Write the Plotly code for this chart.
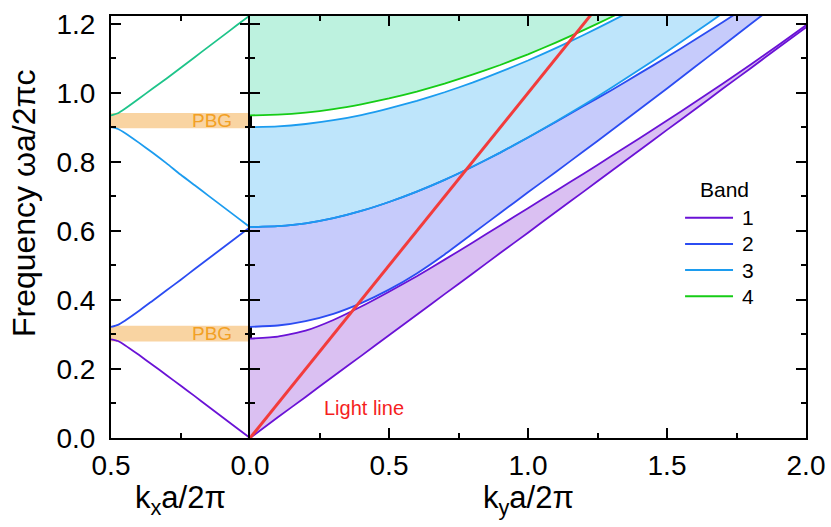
import plotly.graph_objects as go

# ---------------- data ----------------
# left panel: dispersion along kx (ky = 0)
KX = [0.0, 0.05, 0.1, 0.15, 0.2, 0.25, 0.3, 0.35, 0.4, 0.45, 0.475, 0.5]
left_b1 = [0.0, 0.0305, 0.061, 0.0915, 0.122, 0.152, 0.182, 0.2116, 0.241, 0.269, 0.281, 0.286]
left_b2 = [0.611, 0.5805, 0.550, 0.5195, 0.489, 0.458, 0.428, 0.398, 0.368, 0.340, 0.328, 0.322]
left_b3 = [0.611, 0.6415, 0.672, 0.7025, 0.733, 0.7635, 0.796, 0.8266, 0.856, 0.884, 0.8956, 0.901]
left_b4 = [1.225, 1.1945, 1.164, 1.1335, 1.103, 1.0725, 1.042, 1.013, 0.983, 0.954, 0.941, 0.935]

# photonic band gaps (lower, upper)
pbg_low = [0.280, 0.898]
pbg_high = [0.325, 0.942]
pbg_label = ["PBG", "PBG"]

# right panel: projected bands vs ky
KY = [0.0, 0.1, 0.2, 0.3, 0.4, 0.5, 0.6, 0.7, 0.8, 0.9, 1.0,
      1.1, 1.2, 1.3, 1.4, 1.5, 1.6, 1.7, 1.8, 1.9, 2.0]
b1_lo = [0.0, 0.060, 0.119, 0.179, 0.238, 0.298, 0.357, 0.417, 0.476, 0.536, 0.595,
         0.655, 0.714, 0.774, 0.833, 0.893, 0.952, 1.012, 1.071, 1.131, 1.190]
b1_hi = [0.288, 0.294, 0.311, 0.342, 0.381, 0.424, 0.469, 0.517, 0.566, 0.616, 0.666,
         0.716, 0.766, 0.817, 0.868, 0.920, 0.973, 1.027, 1.082, 1.138, 1.196]
b2_lo = [0.322, 0.326, 0.339, 0.360, 0.391, 0.430, 0.477, 0.532, 0.592, 0.652, 0.712,
         0.771, 0.831, 0.891, 0.952, 1.013, 1.075, 1.137, 1.199, 1.261, 1.323]
b2_hi = [0.611, 0.614, 0.622, 0.637, 0.658, 0.684, 0.714, 0.748, 0.786, 0.827, 0.871,
         0.916, 0.962, 1.008, 1.056, 1.104, 1.154, 1.205, 1.257, 1.310, 1.364]
b3_lo = [0.611, 0.614, 0.622, 0.637, 0.658, 0.684, 0.714, 0.748, 0.786, 0.827, 0.871,
         0.917, 0.965, 1.015, 1.067, 1.120, 1.175, 1.231, 1.288, 1.346, 1.405]
b3_hi = [0.901, 0.903, 0.910, 0.921, 0.936, 0.955, 0.977, 1.002, 1.030, 1.061, 1.094,
         1.130, 1.168, 1.208, 1.250, 1.294, 1.340, 1.388, 1.438, 1.490, 1.544]
b4_lo = [0.935, 0.937, 0.943, 0.953, 0.967, 0.984, 1.004, 1.027, 1.053, 1.081, 1.112,
         1.146, 1.182, 1.220, 1.260, 1.302, 1.345, 1.389, 1.434, 1.480, 1.527]

light_k = [0.0, 1.3]
light_w = [0.0, 1.3]

band_names = ["1", "2", "3", "4"]
band_colors = ["#6a12d6", "#2b4cf2", "#1c9cef", "#16cc16"]
fill_colors = ["#dac0f2", "#c6cbfb", "#bee5fb", "#bdf2df"]
left_b4_color = "#1ec48a"

x_titles = ["k<sub>x</sub>a/2π", "k<sub>y</sub>a/2π"]
y_title = "Frequency ωa/2πc"

Y_MAX = 1.223
FONT = "Liberation Sans, Arial, sans-serif"

fig = go.Figure()

spl = dict(shape="spline", smoothing=0.5)

# ---------- left panel lines ----------
for ys, col in zip([left_b1, left_b2, left_b3, left_b4],
                   band_colors[:3] + [left_b4_color]):
    fig.add_trace(go.Scatter(x=KX, y=ys, mode="lines", xaxis="x", yaxis="y",
                             line=dict(color=col, width=1.8, **spl),
                             showlegend=False, hoverinfo="skip"))

# ---------- right panel fills ----------
ceiling = [Y_MAX + 0.1] * len(KY)
pairs = [(b1_lo, b1_hi), (b2_lo, b2_hi), (b3_lo, b3_hi), (b4_lo, ceiling)]
for (lo, hi), fc in zip(pairs, fill_colors):
    fig.add_trace(go.Scatter(x=KY, y=lo, mode="lines", xaxis="x2", yaxis="y2",
                             line=dict(width=0, color="rgba(0,0,0,0)", **spl),
                             showlegend=False, hoverinfo="skip"))
    fig.add_trace(go.Scatter(x=KY, y=hi, mode="lines", xaxis="x2", yaxis="y2",
                             fill="tonexty", fillcolor=fc,
                             line=dict(width=0, color="rgba(0,0,0,0)", **spl),
                             showlegend=False, hoverinfo="skip"))

# ---------- right panel lines ----------
line_sets = [(b1_lo, 0), (b1_hi, 0), (b2_lo, 1), (b2_hi, 1),
             (b3_lo, 2), (b3_hi, 2), (b4_lo, 3)]
for ys, ci in line_sets:
    fig.add_trace(go.Scatter(x=KY, y=ys, mode="lines", xaxis="x2", yaxis="y2",
                             line=dict(color=band_colors[ci], width=1.8, **spl),
                             showlegend=False, hoverinfo="skip"))

# light line
fig.add_trace(go.Scatter(x=light_k, y=light_w, mode="lines", xaxis="x2", yaxis="y2",
                         line=dict(color="#f23c3c", width=3), showlegend=False, hoverinfo="skip"))

# ---------- PBG boxes ----------
shapes = []
annotations = []
for lo, hi, lab in zip(pbg_low, pbg_high, pbg_label):
    shapes.append(dict(type="rect", xref="x domain", yref="y", x0=0, x1=1, y0=lo, y1=hi,
                       fillcolor="#f9d4a2", line=dict(width=0), layer="below"))
    annotations.append(dict(x=0.137, y=(lo + hi) / 2, xref="x", yref="y", text=lab,
                            xanchor="center", showarrow=False,
                            font=dict(family=FONT, size=19, color="#f2a024")))

annotations.append(dict(x=0.41, y=0.086, xref="x2", yref="y2", text="Light line",
                        xanchor="center", showarrow=False,
                        font=dict(family=FONT, size=20, color="#f51f1f")))

# ---------- custom legend ----------
leg_x0, leg_x1 = 0.826, 0.895
leg_y = [0.522, 0.460, 0.398, 0.336]
annotations.append(dict(x=0.883, y=0.59, xref="paper", yref="paper", text="Band",
                        xanchor="center", yanchor="middle", showarrow=False,
                        font=dict(family=FONT, size=21, color="black")))
for name, col, yy in zip(band_names, band_colors, leg_y):
    shapes.append(dict(type="line", xref="paper", yref="paper", x0=leg_x0, x1=leg_x1,
                       y0=yy, y1=yy, line=dict(color=col, width=2)))
    annotations.append(dict(x=0.905, y=yy, xref="paper", yref="paper", text=name,
                            xanchor="left", yanchor="middle", showarrow=False,
                            font=dict(family=FONT, size=21, color="black")))

# axis titles
annotations.append(dict(x=-0.125, y=0.557, xref="paper", yref="paper",
                        text=y_title, textangle=-90, showarrow=False,
                        xanchor="center", yanchor="middle",
                        font=dict(family=FONT, size=32, color="black")))
for ax, txt in zip(["x domain", "x2 domain"], x_titles):
    annotations.append(dict(x=0.5, y=-0.147, xref=ax, yref="paper", text=txt,
                            xanchor="center", yanchor="middle", showarrow=False,
                            font=dict(family=FONT, size=31, color="black")))

axis_common = dict(showline=True, linecolor="black", linewidth=2, ticks="inside",
                   ticklen=10, tickwidth=2, tickcolor="black", mirror="ticks",
                   showgrid=False, zeroline=False, automargin=False,
                   tickfont=dict(family=FONT, size=28, color="black"))

fig.update_layout(
    width=831, height=527,
    margin=dict(l=111, r=25, t=16, b=89),
    paper_bgcolor="white", plot_bgcolor="white",
    showlegend=False,
    xaxis=dict(domain=[0, 0.2], range=[0.5, 0], anchor="y",
               tickvals=[0.5], ticktext=["0.5"], ticklabelstandoff=1,
               minor=dict(tickvals=[0.25], ticks="inside", ticklen=5, tickwidth=2, tickcolor="black"),
               **axis_common),
    xaxis2=dict(domain=[0.2, 1], range=[0, 2], anchor="y2", dtick=0.5, tick0=0,
                tickformat=".1f", ticklabelstandoff=1,
                minor=dict(dtick=0.25, ticks="inside", ticklen=5, tickwidth=2, tickcolor="black"),
                **axis_common),
    yaxis=dict(domain=[0, 1], range=[0, Y_MAX], anchor="x", dtick=0.2, tick0=0,
               tickformat=".1f", ticklabelstandoff=8,
               minor=dict(dtick=0.1, ticks="inside", ticklen=5, tickwidth=2, tickcolor="black"),
               **axis_common),
    yaxis2=dict(domain=[0, 1], range=[0, Y_MAX], anchor="x2", dtick=0.2, tick0=0,
                showticklabels=False, matches="y",
                minor=dict(dtick=0.1, ticks="inside", ticklen=5, tickwidth=2, tickcolor="black"),
                **axis_common),
    shapes=shapes,
    annotations=annotations,
)

fig.write_html("out.html")
